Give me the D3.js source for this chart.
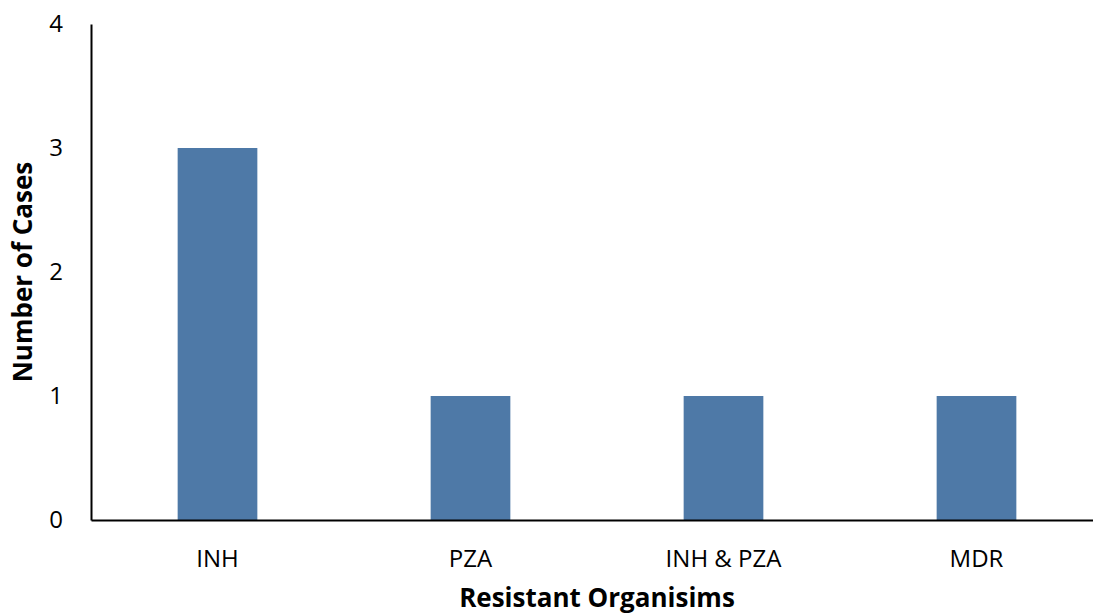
<!DOCTYPE html>
<html>
<head>
<meta charset="utf-8">
<script src="https://cdn.jsdelivr.net/npm/d3@7/dist/d3.min.js"></script>
<style>
  html, body { margin: 0; padding: 0; background: #fff; }
  svg { display: block; font-family: "Open Sans", "Noto Sans", sans-serif; }
</style>
</head>
<body>
<svg id="chart" width="1093" height="615"></svg>
<script>
// Resistant organism counts
const categories = ["INH", "PZA", "INH & PZA", "MDR"];
const cases = [3, 1, 1, 1];
const yTicks = [0, 1, 2, 3, 4];

const svg = d3.select("#chart");
const plot = { left: 91, right: 1103, top: 24, bottom: 520 };

const x = d3.scaleBand().domain(categories).range([plot.left, plot.right]).paddingInner(0.685).paddingOuter(0.3425);
const y = d3.scaleLinear().domain([0, 4]).range([plot.bottom, plot.top]);

// bars
svg.append("g").selectAll("rect")
  .data(categories.map((c, i) => ({ c, v: cases[i] })))
  .join("rect")
  .attr("x", d => x(d.c))
  .attr("y", d => y(d.v))
  .attr("width", x.bandwidth())
  .attr("height", d => y(0) - y(d.v))
  .attr("fill", "#4e79a7");

// y axis
const yAxis = svg.append("g")
  .attr("transform", `translate(${plot.left},0)`)
  .call(d3.axisLeft(y).tickValues(yTicks).tickSize(0).tickPadding(28).tickFormat(d3.format("d")));
yAxis.select(".domain").attr("stroke", "#000").attr("stroke-width", 2);
yAxis.selectAll("text").attr("font-size", 24).attr("fill", "#000").attr("font-family", "Open Sans");

// x axis
const xAxis = svg.append("g")
  .attr("transform", `translate(0,${plot.bottom})`)
  .call(d3.axisBottom(x).tickSize(0).tickPadding(30));
xAxis.select(".domain").attr("stroke", "#000").attr("stroke-width", 2);
xAxis.selectAll("text").attr("font-size", 24).attr("fill", "#000").attr("font-family", "Open Sans");

// axis titles
svg.append("text")
  .attr("x", 597).attr("y", 607)
  .attr("text-anchor", "middle")
  .attr("font-size", 26).attr("font-weight", "bold")
  .text("Resistant Organisims");

svg.append("text")
  .attr("transform", "translate(32,272) rotate(-90)")
  .attr("text-anchor", "middle")
  .attr("font-size", 26).attr("font-weight", "bold")
  .text("Number of Cases");
</script>
</body>
</html>
